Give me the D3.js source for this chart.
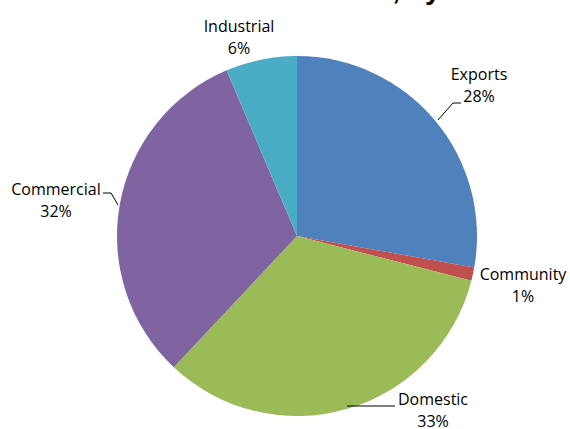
<!DOCTYPE html>
<html>
<head>
<meta charset="utf-8">
<script src="https://cdn.jsdelivr.net/npm/d3@7"></script>
<style>
  body { margin: 0; background: #fff; }
  text { font-family: "Open Sans", sans-serif; fill: #000; }
</style>
</head>
<body>
<div id="chart"></div>
<script>
const width = 570;
const height = 429;

// data, clockwise from 12 o'clock
const categories = ["Exports", "Community", "Domestic", "Commercial", "Industrial"];
const shares = [27.8, 1.2, 33.0, 31.6, 6.4];
const colors = ["#4F81BD", "#C0504D", "#9BBB59", "#8064A2", "#4BACC6"];

// label positions (center of the two-line label) and leader lines
const labelPos = [
  { x: 479, y: 80 },
  { x: 523, y: 280 },
  { x: 433, y: 405 },
  { x: 56, y: 195 },
  { x: 239, y: 32 }
];
const leaders = [
  [[438, 120], [453, 103], [461, 103]],
  null,
  [[347, 406], [395, 406]],
  [[103, 193], [111, 193], [118, 205]],
  null
];

const cx = 297, cy = 236, radius = 180;

const svg = d3
  .select("#chart")
  .append("svg")
  .attr("width", width)
  .attr("height", height);

// title, almost entirely above the top edge of the picture
const titleStyle = (sel) => sel
  .attr("y", -1)
  .style("font-family", "'Liberation Sans', sans-serif")
  .style("font-weight", "bold")
  .style("font-size", "28px");
svg.append("text").call(titleStyle)
  .attr("x", 400)
  .attr("text-anchor", "end")
  .text("Water Demand,");
svg.append("text").call(titleStyle)
  .attr("x", 400)
  .attr("xml:space", "preserve")
  .text(" by Sector");

const g = svg.append("g").attr("transform", `translate(${cx},${cy})`);

const pie = d3.pie().sort(null).value((d) => d.value);
const arc = d3.arc().innerRadius(0).outerRadius(radius);

const data = categories.map((c, i) => ({ name: c, value: shares[i], color: colors[i] }));

g.selectAll("path")
  .data(pie(data))
  .enter()
  .append("path")
  .attr("d", arc)
  .attr("fill", (d) => d.data.color);

// leader lines
const line = d3.line();
leaders.forEach((pts) => {
  if (!pts) return;
  svg.append("path")
    .attr("d", line(pts))
    .attr("fill", "none")
    .attr("stroke", "#000")
    .attr("stroke-width", 1);
});

// labels
data.forEach((d, i) => {
  const t = svg.append("text")
    .attr("x", labelPos[i].x)
    .attr("y", labelPos[i].y)
    .attr("text-anchor", "middle")
    .style("font-size", "16px");
  t.append("tspan").attr("x", labelPos[i].x).text(d.name);
  t.append("tspan").attr("x", labelPos[i].x).attr("dy", 22).text(Math.round(d.value) + "%");
});
</script>
</body>
</html>
